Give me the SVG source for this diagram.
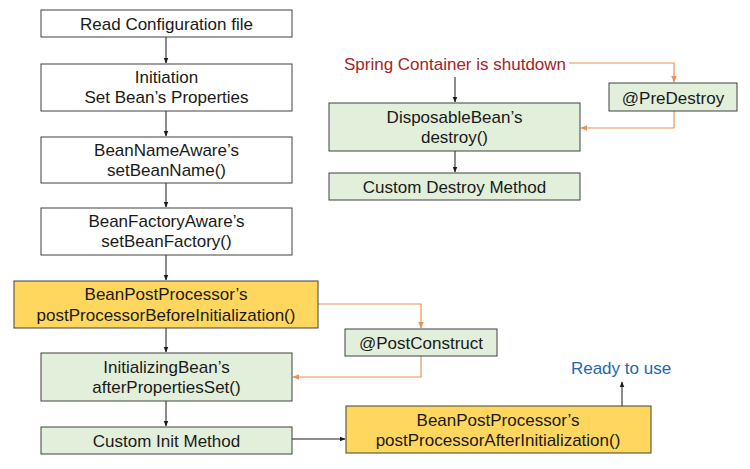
<svg xmlns="http://www.w3.org/2000/svg" width="750" height="469" viewBox="0 0 750 469">
<defs>
<style>
.box{stroke:#404040;stroke-width:1}
.w{fill:#ffffff}
.g{fill:#e2efda}
.y{fill:#ffd75f}
text{font-family:"Liberation Sans",Arial,sans-serif;font-size:17px;fill:#1a1a1a;text-anchor:middle}
.blk{stroke:#1a1a1a;stroke-width:1;fill:none}
.org{stroke:#e8935a;stroke-width:1.2;fill:none}
</style>
<marker id="ab" viewBox="0 0 10 10" refX="9" refY="5" markerWidth="6" markerHeight="6" orient="auto"><path d="M0,1 L10,5 L0,9 z" fill="#1a1a1a"/></marker>
<marker id="ao" viewBox="0 0 10 10" refX="9" refY="5" markerWidth="6" markerHeight="6" orient="auto"><path d="M0,1 L10,5 L0,9 z" fill="#e8935a"/></marker>
</defs>
<rect width="750" height="469" fill="#ffffff"/>
<g id="connectors">
<line class="blk" x1="166" y1="37" x2="166" y2="63" marker-end="url(#ab)"/>
<line class="blk" x1="166" y1="111" x2="166" y2="136" marker-end="url(#ab)"/>
<line class="blk" x1="166" y1="183" x2="166" y2="207" marker-end="url(#ab)"/>
<line class="blk" x1="166" y1="255" x2="166" y2="280" marker-end="url(#ab)"/>
<line class="blk" x1="166" y1="328" x2="166" y2="352" marker-end="url(#ab)"/>
<line class="blk" x1="166" y1="401" x2="166" y2="426" marker-end="url(#ab)"/>
<line class="blk" x1="292" y1="439" x2="345" y2="439" marker-end="url(#ab)"/>
<line class="blk" x1="622" y1="406" x2="622" y2="382" marker-end="url(#ab)"/>
<polyline class="org" points="318,304 421,304 421,328" marker-end="url(#ao)"/>
<polyline class="org" points="421,356 421,377 293,377" marker-end="url(#ao)"/>
<line class="blk" x1="455" y1="77" x2="455" y2="102" marker-end="url(#ab)"/>
<line class="blk" x1="455" y1="151" x2="455" y2="172" marker-end="url(#ab)"/>
<polyline class="org" points="569,63 674,63 674,82" marker-end="url(#ao)"/>
<polyline class="org" points="674,111 674,128 581,128" marker-end="url(#ao)"/>
</g>
<g id="read-config"><rect class="box w" x="41" y="10" width="251" height="27"/><text x="166.5" y="29.5">Read Configuration file</text></g>
<g id="initiation"><rect class="box w" x="41" y="64" width="251" height="47"/><text x="166.5" y="82.5">Initiation</text><text x="166.5" y="102.5">Set Bean’s Properties</text></g>
<g id="bean-name-aware"><rect class="box w" x="41" y="137" width="251" height="46"/><text x="166.5" y="155.5">BeanNameAware’s</text><text x="166.5" y="175.5">setBeanName()</text></g>
<g id="bean-factory-aware"><rect class="box w" x="41" y="208" width="251" height="47"/><text x="166.5" y="226.5">BeanFactoryAware’s</text><text x="166.5" y="246.5">setBeanFactory()</text></g>
<g id="bpp-before"><rect class="box y" x="14" y="281" width="304" height="47"/><text x="166" y="299.5">BeanPostProcessor’s</text><text x="166" y="320.5">postProcessorBeforeInitialization()</text></g>
<g id="initializing-bean"><rect class="box g" x="41" y="353" width="251" height="48"/><text x="166.5" y="372.5">InitializingBean’s</text><text x="166.5" y="392.5">afterPropertiesSet()</text></g>
<g id="custom-init"><rect class="box g" x="41" y="427" width="251" height="27"/><text x="166.5" y="446.5">Custom Init Method</text></g>
<g id="post-construct"><rect class="box g" x="345" y="329" width="152" height="27"/><text x="421" y="348.5">@PostConstruct</text></g>
<g id="bpp-after"><rect class="box y" x="346" y="406" width="305" height="47"/><text x="498" y="425.5">BeanPostProcessor’s</text><text x="498" y="445.5">postProcessorAfterInitialization()</text></g>
<g id="ready"><text x="621" y="373.5" style="fill:#2167b0">Ready to use</text></g>
<g id="shutdown"><text x="455" y="69.5" style="fill:#a82228">Spring Container is shutdown</text></g>
<g id="pre-destroy"><rect class="box g" x="609" y="83" width="128" height="28"/><text x="673" y="103.5">@PreDestroy</text></g>
<g id="disposable-bean"><rect class="box g" x="329" y="103" width="251" height="48"/><text x="454.5" y="122.5">DisposableBean’s</text><text x="454.5" y="142.5">destroy()</text></g>
<g id="custom-destroy"><rect class="box g" x="329" y="173" width="251" height="27"/><text x="454.5" y="192.5">Custom Destroy Method</text></g>
</svg>
